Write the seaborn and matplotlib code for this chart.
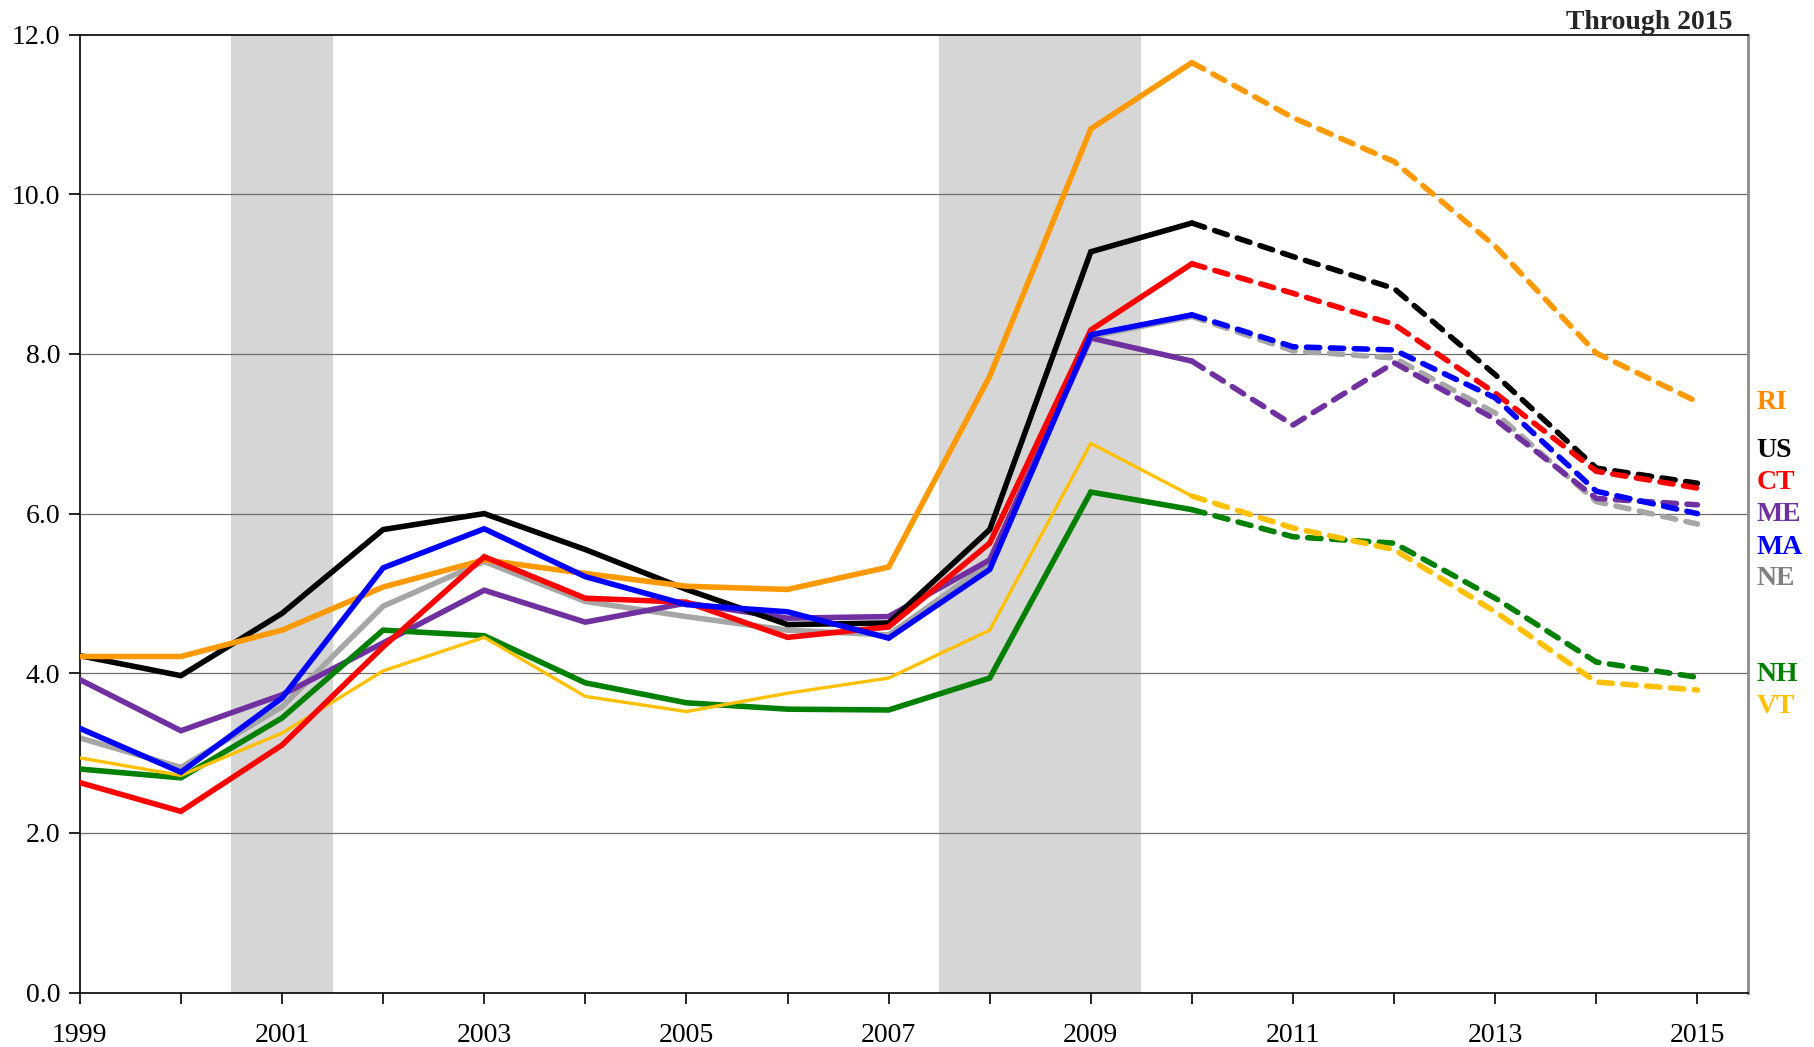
import pandas as pd
import matplotlib
matplotlib.use("Agg")
import matplotlib.pyplot as plt
import matplotlib.transforms as mtransforms
import seaborn as sns

# dados (taxa de desemprego, %)
years = list(range(1999, 2016))
US = [4.22, 3.97, 4.75, 5.80, 6.00, 5.55, 5.05, 4.61, 4.63, 5.80, 9.28, 9.64, 9.22, 8.82, 7.74, 6.57, 6.38]
CT = [2.63, 2.27, 3.10, 4.33, 5.46, 4.94, 4.89, 4.45, 4.58, 5.63, 8.30, 9.13, 8.76, 8.37, 7.51, 6.53, 6.32]
MA = [3.31, 2.76, 3.69, 5.32, 5.81, 5.21, 4.86, 4.77, 4.44, 5.30, 8.24, 8.49, 8.09, 8.05, 7.45, 6.28, 6.00]
ME = [3.92, 3.28, 3.73, 4.38, 5.04, 4.64, 4.88, 4.69, 4.71, 5.42, 8.20, 7.91, 7.11, 7.89, 7.18, 6.19, 6.11]
NE = [3.19, 2.82, 3.58, 4.84, 5.40, 4.90, 4.71, 4.54, 4.48, 5.38, 8.22, 8.47, 8.04, 7.95, 7.26, 6.15, 5.87]
RI = [4.21, 4.21, 4.54, 5.08, 5.42, 5.25, 5.09, 5.05, 5.33, 7.72, 10.82, 11.65, 10.96, 10.41, 9.35, 8.01, 7.40]
NH = [2.80, 2.69, 3.44, 4.54, 4.47, 3.88, 3.63, 3.55, 3.54, 3.94, 6.27, 6.05, 5.71, 5.63, 4.94, 4.14, 3.95]
VT = [2.94, 2.72, 3.25, 4.03, 4.45, 3.71, 3.52, 3.75, 3.94, 4.54, 6.88, 6.22, 5.82, 5.55, 4.77, 3.89, 3.79]
last_actual = 2010  # solid until here, dashed afterwards
recessions = [(2000.5, 2001.5), (2007.5, 2009.5)]
yticks = [0, 2, 4, 6, 8, 10, 12]

series = {"NE": NE, "ME": ME, "NH": NH, "VT": VT, "US": US, "RI": RI, "CT": CT, "MA": MA}
cores = {"US": "#000000", "CT": "#FF0000", "MA": "#0000FF", "ME": "#7030A0",
         "NE": "#A6A6A6", "RI": "#FF9900", "NH": "#008000", "VT": "#FFC000"}
cores_label = dict(cores, NE="#808080", RI="#FF8C00")
label_y = {"RI": 7.39, "US": 6.79, "CT": 6.39, "ME": 5.99, "MA": 5.58, "NE": 5.19, "NH": 3.99, "VT": 3.58}
label_order = ["RI", "US", "CT", "ME", "MA", "NE", "NH", "VT"]

sns.set_style("white")
plt.rcParams['font.family'] = ['Liberation Serif', 'DejaVu Serif']

df = pd.DataFrame(series)
df["ano"] = years

fig = plt.figure(figsize=(18.14, 10.47), dpi=100)
ax = fig.add_axes([0.044, 0.052, 0.9196, 0.9149])

for a, b in recessions:
    ax.axvspan(a, b, color="#D6D6D6", lw=0, zorder=0)

for yv in [2, 4, 6, 8, 10]:
    ax.axhline(yv, color="#6e6e6e", lw=0.9, zorder=1)

z = 2
for st in series:
    lw_solid = 2.4 if st == "VT" else 4.0
    solido = df[df["ano"] <= last_actual]
    tracejado = df[df["ano"] >= last_actual]
    sns.lineplot(data=solido, x="ano", y=st, color=cores[st], lw=lw_solid, ax=ax, zorder=z,
                 solid_joinstyle="miter")
    l = sns.lineplot(data=tracejado, x="ano", y=st, color=cores[st], lw=4.0, ax=ax, zorder=z)
    l.lines[-1].set_dashes((2.4, 1.9))
    l.lines[-1].set_dash_capstyle("round")
    z += 1

ax.set_xlim(1999, 2015.5)
ax.set_ylim(0, 12)
ax.set_xticks(years)
ax.set_xticklabels([str(y) if (y - 1999) % 2 == 0 else "" for y in years])
ax.set_yticks(yticks)
ax.set_yticklabels([f"{v:.1f}" for v in yticks])
ax.tick_params(axis="both", bottom=True, left=True, direction="out", length=8, width=1.2,
               labelsize=20, colors="black")
ax.tick_params(axis="x", pad=14)
ax.tick_params(axis="y", pad=6)
ax.set_xlabel("")
ax.set_ylabel("")

for s in ["left", "bottom", "top"]:
    ax.spines[s].set_color("black")
    ax.spines[s].set_linewidth(1.2)
ax.spines["right"].set_color("#8c8c8c")
ax.spines["right"].set_linewidth(2)

trans = mtransforms.blended_transform_factory(ax.transAxes, ax.transData)
for st in label_order:
    ax.text(1.005, label_y[st], st, transform=trans, color=cores_label[st], fontsize=20,
            fontweight="bold", va="center", ha="left")

ax.text(0.991, 1.0, "Through 2015", transform=ax.transAxes, fontsize=20, fontweight="bold",
        ha="right", va="bottom")

fig.savefig("out.png", dpi=100)
